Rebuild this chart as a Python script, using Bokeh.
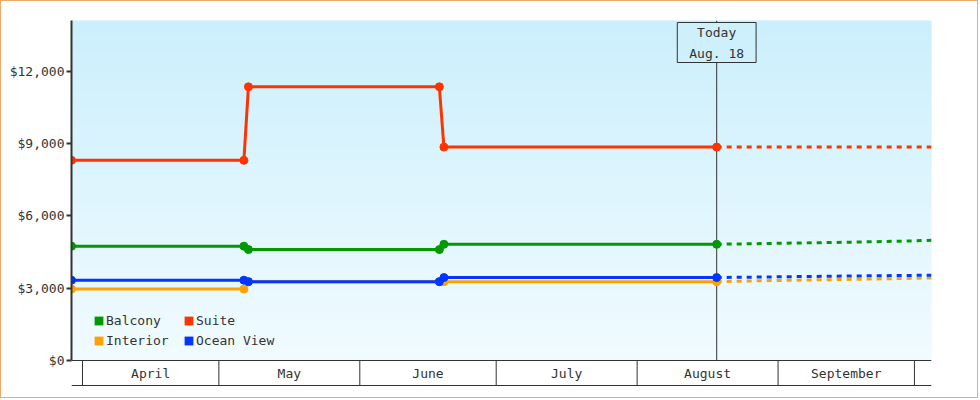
from datetime import datetime
import numpy as np
from bokeh.plotting import figure
from bokeh.models import (Range1d, FixedTicker, LinearAxis, NumeralTickFormatter,
                          Span, Label, Legend, LegendItem)
from bokeh.core.properties import value
from bokeh.embed import file_html
from bokeh.resources import INLINE


def ms(d):
    return (d - datetime(1970, 1, 1)).total_seconds() * 1000.0


# ---------------- data ----------------
range_start = datetime(2013, 3, 29, 14)
range_end = datetime(2013, 10, 4, 18)

hist_dates = [datetime(2013, 3, 29, 14), datetime(2013, 5, 6, 12), datetime(2013, 5, 7, 12),
              datetime(2013, 6, 18, 12), datetime(2013, 6, 19, 12), datetime(2013, 8, 18, 12)]
balcony_hist = [4740, 4740, 4600, 4600, 4820, 4820]
suite_hist = [8300, 8300, 11350, 11350, 8850, 8850]
interior_hist = [2960, 2960, 3270, 3270, 3270, 3270]
ocean_hist = [3330, 3330, 3270, 3270, 3440, 3440]

fc_dates = [datetime(2013, 8, 18, 12), datetime(2013, 9, 1), datetime(2013, 9, 15),
            datetime(2013, 10, 1), datetime(2013, 10, 4, 18)]
balcony_fc = [4820, 4860, 4900, 4960, 4990]
suite_fc = [8850, 8850, 8850, 8850, 8850]
interior_fc = [3270, 3320, 3360, 3410, 3430]
ocean_fc = [3440, 3470, 3500, 3530, 3540]

months = ["April", "May", "June", "July", "August", "September"]
month_starts = [datetime(2013, m, 1) for m in range(4, 11)]
y_ticks = [0, 3000, 6000, 9000, 12000]
y_max = 14100
today = datetime(2013, 8, 18, 12)
today_text = "Today\nAug. 18"

series_names = ["Balcony", "Suite", "Interior", "Ocean View"]
colors = {"Balcony": "#009900", "Suite": "#ff3300", "Interior": "#ffa200", "Ocean View": "#0036ff"}

FONT = "DejaVu Sans Mono"
TXT = "#333333"

# ---------------- geometry ----------------
BORDER = 1
W, H = 980 - 2 * BORDER, 400 - 2 * BORDER   # canvas; CSS border sits outside
LEFT, TOP = 70, 19
PLOT_PX = 340          # pixel height of the value area
BAND_PX = 26           # month band below the value area
FRAME_W = 860
k = y_max / PLOT_PX    # data units per pixel
y_min = -BAND_PX * k

p = figure(width=W, height=H,
           x_range=Range1d(ms(range_start), ms(range_end)),
           y_range=Range1d(y_min, y_max),
           x_axis_type=None, y_axis_type=None,
           output_backend="svg", toolbar_location=None,
           min_border_left=LEFT, min_border_top=TOP,
           min_border_right=W - LEFT - FRAME_W,
           min_border_bottom=H - TOP - PLOT_PX - BAND_PX)
p.xgrid.visible = False
p.ygrid.visible = False
p.outline_line_color = None
p.background_fill_color = "white"
p.border_fill_color = "white"
p.styles = {"border": "%dpx solid #eeaa66" % BORDER}

# gradient background
n_bands = 68
edges = np.linspace(0, y_max, n_bands + 1)
top_rgb = np.array([203, 239, 252])
bot_rgb = np.array([241, 251, 255])
band_cols = []
for i in range(n_bands):
    t = (i + 0.5) / n_bands
    c = bot_rgb + (top_rgb - bot_rgb) * t
    band_cols.append("#%02x%02x%02x" % tuple(int(round(v)) for v in c))
p.quad(left=ms(range_start), right=ms(range_end), bottom=edges[:-1], top=edges[1:],
       fill_color=band_cols, line_color=band_cols, line_width=1, level="image")

# today line
p.segment(x0=[ms(today)], y0=[0], x1=[ms(today)], y1=[y_max], line_color=TXT, line_width=1,
          level="underlay")

hx = [ms(d) for d in hist_dates]
fx = [ms(d) for d in fc_dates]
hist = {"Balcony": balcony_hist, "Suite": suite_hist, "Interior": interior_hist, "Ocean View": ocean_hist}
fc = {"Balcony": balcony_fc, "Suite": suite_fc, "Interior": interior_fc, "Ocean View": ocean_fc}

for name in series_names:
    col = colors[name]
    p.line(fx, fc[name], line_color=col, line_width=3, line_dash="5 5")
    p.line(hx, hist[name], line_color=col, line_width=3)
    p.scatter(hx, hist[name], marker="circle", size=8, fill_color=col, line_color=col)

# legend proxies (zero-size)
items = []
for name in series_names:
    r = p.quad(left=[hx[0]], right=[hx[0]], top=[0], bottom=[0],
               fill_color=colors[name], line_color=None)
    items.append(LegendItem(label=name, renderers=[r]))
legend = Legend(items=items, location=(22, 10 + BAND_PX), orientation="horizontal", ncols=2,
                glyph_width=11, glyph_height=11, label_standoff=2, label_width=77,
                label_height=20, spacing=0, padding=0, margin=0,
                background_fill_alpha=0, border_line_alpha=0,
                label_text_font=FONT, label_text_font_size="13px", label_text_color=TXT)
p.add_layout(legend, "center")

# today label
p.add_layout(Label(x=ms(today), y=y_max, text=today_text, text_align="center",
                   text_baseline="top", text_font=FONT, text_font_size="13px",
                   text_color=TXT, text_line_height=1.4,
                   border_line_color=TXT, border_line_width=1,
                   background_fill_color="#cdf0fc", padding=(12, 2), y_offset=-2))

# y axis (limited to the value area)
yax = LinearAxis(ticker=FixedTicker(ticks=y_ticks), formatter=NumeralTickFormatter(format="$0,0"),
                 bounds=(0, y_max),
                 axis_line_color=TXT, axis_line_width=2,
                 major_tick_line_color=TXT, major_tick_line_width=2,
                 major_tick_out=5, major_tick_in=0, minor_tick_out=0, minor_tick_in=0,
                 major_label_standoff=2,
                 major_label_text_font=FONT, major_label_text_font_size="13px",
                 major_label_text_color=TXT)
p.add_layout(yax, "left")

# month band
p.add_layout(Span(location=0, dimension="width", line_color=TXT, line_width=1))
p.add_layout(Span(location=-(BAND_PX - 1) * k, dimension="width", line_color=TXT, line_width=1))
ms_starts = [ms(d) for d in month_starts]
p.segment(x0=ms_starts, y0=[0] * len(ms_starts), x1=ms_starts,
          y1=[-(BAND_PX - 1) * k] * len(ms_starts), line_color=TXT, line_width=1)
mids = [(a + b) / 2.0 for a, b in zip(ms_starts[:-1], ms_starts[1:])]
p.text(x=mids, y=[-12.5 * k] * len(mids), text=months, text_align="center",
       text_baseline="middle", text_font=value(FONT), text_font_size="13px", text_color=TXT)

open("out.html", "w").write(file_html(p, INLINE))
